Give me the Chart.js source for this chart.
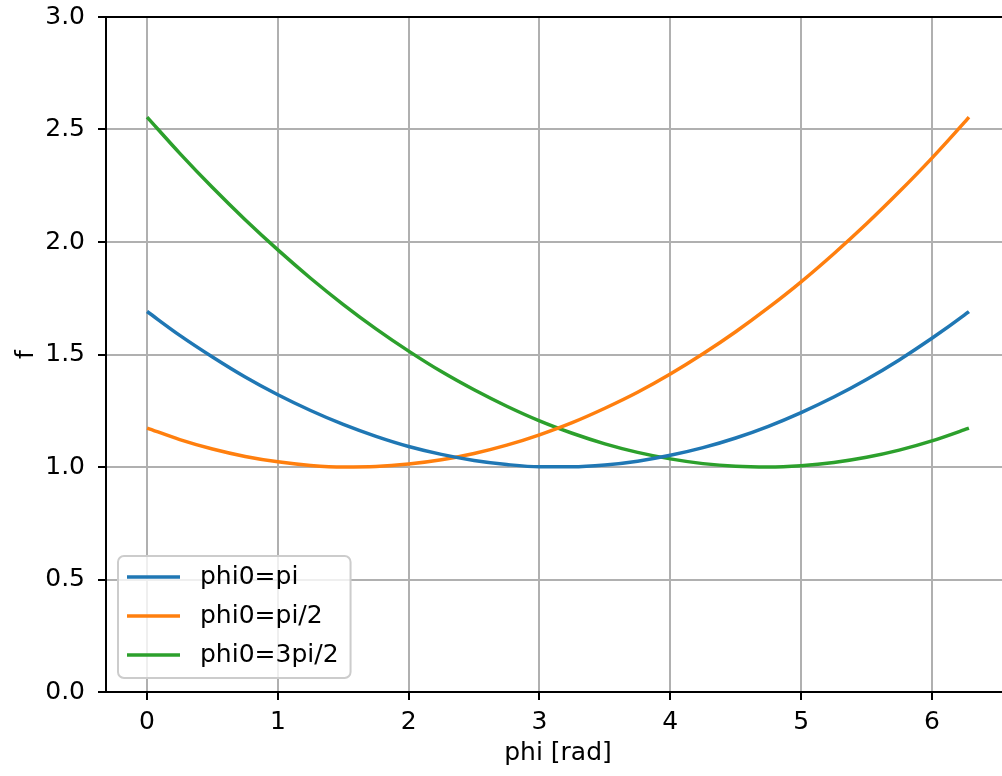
<!DOCTYPE html>
<html>
<head>
<meta charset="utf-8">
<script src="https://cdn.jsdelivr.net/npm/chart.js@4.4.0/dist/chart.umd.min.js"></script>
<style>
  html, body { margin: 0; padding: 0; background: #fff; overflow: hidden; }
  #wrap { width: 1020px; height: 776px; }
</style>
</head>
<body>
<div id="wrap"><canvas id="chart" width="1020" height="776"></canvas></div>
<script>
// phi samples (rad) and the three curves
const phi = [0, 0.25, 0.5, 0.75, 1.0, 1.25, 1.5, 1.75, 2.0, 2.25, 2.5, 2.75, 3.0, 3.25,
             3.5, 3.75, 4.0, 4.25, 4.5, 4.75, 5.0, 5.25, 5.5, 5.75, 6.0, 6.25, 6.283];

const fPi = [1.691, 1.585, 1.489, 1.400, 1.321, 1.251, 1.189, 1.136, 1.091, 1.056, 1.029,
             1.011, 1.001, 1.001, 1.009, 1.026, 1.052, 1.086, 1.129, 1.181, 1.242, 1.311,
             1.389, 1.476, 1.572, 1.676, 1.691];

const fHalfPi = [1.173, 1.122, 1.080, 1.047, 1.023, 1.007, 1.000, 1.002, 1.013, 1.032, 1.060,
                 1.097, 1.143, 1.197, 1.261, 1.332, 1.413, 1.503, 1.601, 1.708, 1.823, 1.948,
                 2.081, 2.223, 2.373, 2.533, 2.555];

const fThreeHalfPi = [2.555, 2.394, 2.242, 2.099, 1.965, 1.839, 1.722, 1.614, 1.515, 1.424,
                      1.343, 1.270, 1.205, 1.150, 1.103, 1.065, 1.036, 1.015, 1.003, 1.000,
                      1.006, 1.020, 1.043, 1.075, 1.116, 1.166, 1.173];

const seriesLabels = ["phi0=pi", "phi0=pi/2", "phi0=3pi/2"];
const seriesColors = ["#1f77b4", "#ff7f0e", "#2ca02c"];

const xTicks = [0, 1, 2, 3, 4, 5, 6];
const yTicks = [0, 0.5, 1.0, 1.5, 2.0, 2.5, 3.0];

const FONT = "DejaVu Sans";
const FONT_SIZE = 25;
Chart.defaults.font.family = FONT;
Chart.defaults.font.size = FONT_SIZE;
Chart.defaults.color = "#000";

const toPoints = ys => ys.map((y, i) => ({ x: phi[i], y }));

// ─── top / right spines + legend box (matplotlib style, lower left) ───
const frameAndLegend = {
    id: "frameAndLegend",
    afterDatasetsDraw(chart) {
        const { ctx, chartArea: a } = chart;
        ctx.save();
        ctx.strokeStyle = "#000";
        ctx.lineWidth = 2;
        ctx.beginPath();
        ctx.moveTo(a.left, a.top);
        ctx.lineTo(a.right, a.top);
        ctx.lineTo(a.right, a.bottom);
        ctx.stroke();
        ctx.restore();
    },
    afterDraw(chart) {
        const { ctx, chartArea: a } = chart;
        const ds = chart.data.datasets;
        ctx.save();
        ctx.font = `${FONT_SIZE}px "${FONT}"`;
        const textW = Math.max(...ds.map(d => ctx.measureText(d.label).width));
        const x = a.left + 12;
        const h = 122;
        const y = a.bottom - 14 - h;
        const w = 9 + 53 + 20 + textW + 12;

        ctx.beginPath();
        ctx.roundRect(x, y, w, h, 6);
        ctx.fillStyle = "rgba(255,255,255,0.8)";
        ctx.fill();
        ctx.strokeStyle = "#cccccc";
        ctx.lineWidth = 2;
        ctx.stroke();

        ds.forEach((d, i) => {
            const cy = y + 21 + i * 39;
            ctx.strokeStyle = d.borderColor;
            ctx.lineWidth = 3.5;
            ctx.beginPath();
            ctx.moveTo(x + 9, cy);
            ctx.lineTo(x + 62, cy);
            ctx.stroke();
            ctx.fillStyle = "#000";
            ctx.textBaseline = "middle";
            ctx.textAlign = "left";
            ctx.fillText(d.label, x + 82, cy);
        });
        ctx.restore();
    }
};

new Chart(document.getElementById("chart"), {
    type: "scatter",
    data: {
        datasets: [fPi, fHalfPi, fThreeHalfPi].map((ys, i) => ({
            label: seriesLabels[i],
            data: toPoints(ys),
            showLine: true,
            borderColor: seriesColors[i],
            backgroundColor: seriesColors[i],
            borderWidth: 3.5,
            pointRadius: 0,
            cubicInterpolationMode: "monotone",
        })),
    },
    options: {
        responsive: false,
        animation: false,
        layout: { padding: { top: 17, right: 10, left: 0, bottom: 0 } },
        plugins: {
            legend: { display: false },
            tooltip: { enabled: false },
        },
        scales: {
            x: {
                type: "linear",
                min: -0.314,
                max: 6.597,
                afterBuildTicks: s => { s.ticks = xTicks.map(v => ({ value: v })); },
                afterFit: s => { s.height = 84; s.paddingLeft = 0; s.paddingRight = 0; },
                ticks: { padding: 7, callback: v => String(v) },
                grid: { color: "#b0b0b0", lineWidth: 2, tickColor: "#000", tickWidth: 2, tickLength: 8 },
                border: { color: "#000", width: 2 },
                title: { display: true, text: "phi [rad]", padding: { top: 0, bottom: 8 } },
            },
            y: {
                min: 0,
                max: 3,
                afterBuildTicks: s => { s.ticks = yTicks.map(v => ({ value: v })); },
                afterFit: s => { s.width = 106; s.paddingTop = 0; s.paddingBottom = 0; },
                ticks: { padding: 13, callback: v => v.toFixed(1) },
                grid: { color: "#b0b0b0", lineWidth: 2, tickColor: "#000", tickWidth: 2, tickLength: 8 },
                border: { color: "#000", width: 2 },
                title: { display: true, text: "f", padding: { top: 11, bottom: 0 } },
            },
        },
    },
    plugins: [frameAndLegend],
});
</script>
</body>
</html>
